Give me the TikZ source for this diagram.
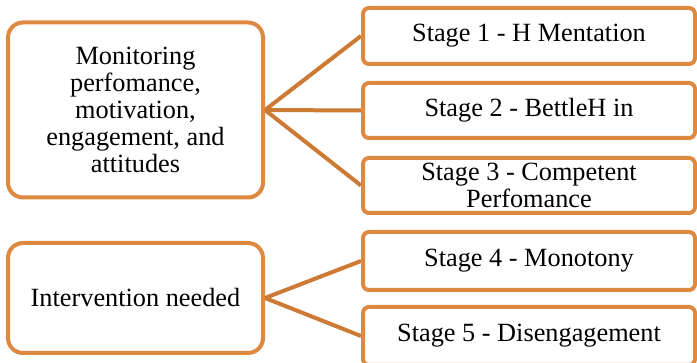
\documentclass[tikz,border=0pt]{standalone}
\usepackage{fontspec}
\setmainfont{Liberation Serif}
\usetikzlibrary{backgrounds}
\definecolor{boxorange}{RGB}{222,137,64}
\definecolor{lineorange}{RGB}{204,122,52}
\begin{document}
\begin{tikzpicture}[x=1pt,y=-1pt,
  every node/.style={font=\fontsize{26.3}{26.8}\selectfont, align=center, inner sep=0pt},
  bigbox/.style={draw=boxorange, line width=4pt, rounded corners=15pt, fill=white, minimum width=255pt},
  stagebox/.style={draw=boxorange, line width=4pt, rounded corners=6pt, fill=white, minimum width=332pt},
  conn/.style={draw=lineorange, line width=4pt}]
\useasboundingbox (0,0) rectangle (697,363);
\clip (0,0) rectangle (697,363);
\node[stagebox, minimum height=56pt] (s1) at (529,36) {Stage 1 - H Mentation};
\node[stagebox, minimum height=55pt] (s2) at (529,110.5) {Stage 2 - BettleH in};
\node[stagebox, minimum height=55pt] (s3) at (529,185.5) {Stage 3 - Competent\\Perfomance};
\node[stagebox, minimum height=58pt] (s4) at (529,261) {Stage 4 - Monotony};
\node[stagebox, minimum height=58pt] (s5) at (529,336) {Stage 5 - Disengagement};
\node[bigbox, minimum height=175pt] (a) at (135.5,110) {Monitoring\\perfomance,\\motivation,\\engagement, and\\attitudes};
\node[bigbox, minimum height=110pt] (b) at (135.5,298) {Intervention needed};
\begin{scope}[on background layer]
\draw[conn] (a.east) -- (s1.west);
\draw[conn] (a.east) -- (s2.west);
\draw[conn] (a.east) -- (s3.west);
\draw[conn] (b.east) -- (s4.west);
\draw[conn] (b.east) -- (s5.west);
\end{scope}
\end{tikzpicture}
\end{document}
